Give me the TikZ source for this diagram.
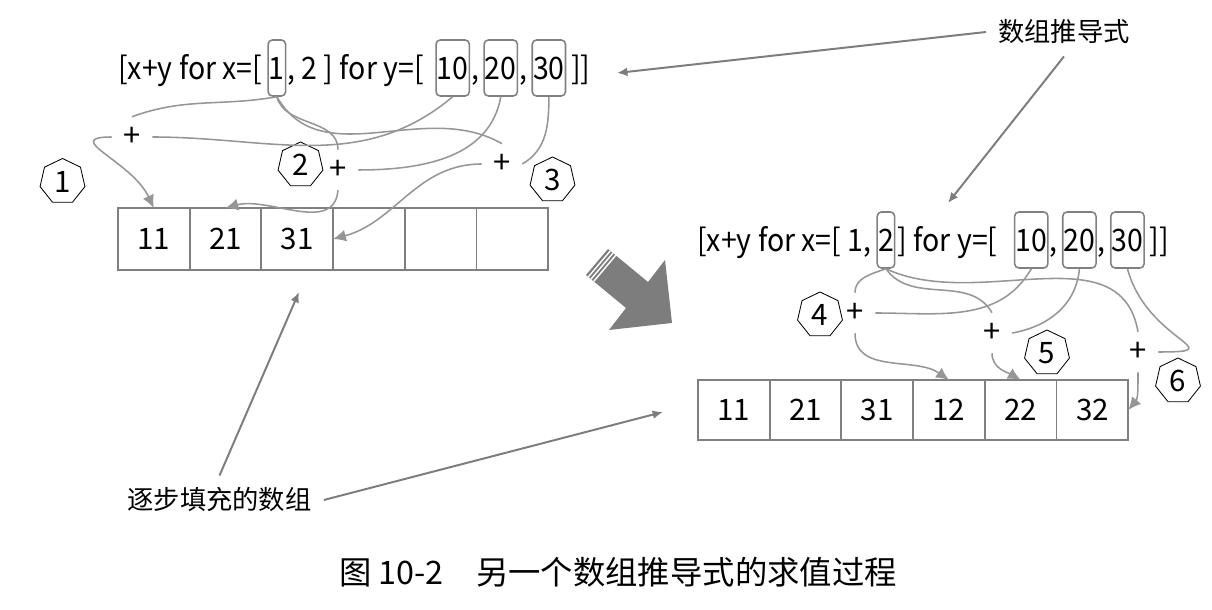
\documentclass[tikz,border=0pt]{standalone}
\usepackage{fontspec}
\setmainfont{Noto Sans CJK SC}
\newfontfamily\codefont[FakeStretch=0.92]{Noto Sans CJK SC}
\usetikzlibrary{positioning,shapes.geometric,arrows.meta}

\definecolor{cellgray}{RGB}{128,128,128}
\definecolor{linegray}{RGB}{150,150,150}
\definecolor{arrowgray}{RGB}{125,125,125}

\begin{document}
\begin{tikzpicture}[
    x=0.025cm, y=0.025cm,
    formula/.style={
        inner sep=0pt,
        anchor=base west,
        font=\codefont\fontsize{22}{26}\selectfont
    },
    numbox/.style={
        draw=cellgray,
        line width=1.1pt,
        rounded corners=3pt,
        inner xsep=0.6pt,
        inner ysep=0pt,
        text height=1.0cm,
        text depth=0.4cm,
        anchor=base west,
        font=\codefont\fontsize{22}{26}\selectfont
    },
    cell/.style={
        draw=cellgray,
        line width=1.3pt,
        minimum width=1.7925cm,
        minimum height=1.55cm,
        inner sep=0pt,
        outer sep=0pt,
        font=\fontsize{21}{24}\selectfont
    },
    plus/.style={
        circle,
        minimum size=1cm,
        inner sep=0pt,
        font=\fontsize{22}{24}\selectfont
    },
    stepno/.style={
        regular polygon,
        regular polygon sides=7,
        draw=black,
        line width=0.6pt,
        minimum size=1.15cm,
        inner sep=0pt,
        font=\fontsize{21}{24}\selectfont
    },
    note/.style={
        inner sep=0.3cm,
        font=\fontsize{18.7}{22}\selectfont
    },
    link/.style={
        draw=linegray,
        line width=1.1pt
    },
    flow/.style={
        link,
        -{Latex[length=3.2mm,width=3mm]}
    },
    pointer/.style={
        draw=arrowgray,
        line width=1.4pt,
        -{Latex[length=2.6mm,width=2.2mm]}
    }
]
    \useasboundingbox (0,0) rectangle (1212,610);

    % Left: formula with x=1
    \node [formula] (lf1) at (118,530) {[x+y for x=[};
    \node [numbox, right=0.12cm of lf1.base east, anchor=base west] (ln1) {1};
    \node [formula, right=0.02cm of ln1.base east, anchor=base west] (lf2) {, 2 ] for y=[};
    \node [numbox, right=0.28cm of lf2.base east, anchor=base west] (ln10) {10};
    \node [formula, right=0.02cm of ln10.base east, anchor=base west] (lf3) {,};
    \node [numbox, right=0.1cm of lf3.base east, anchor=base west] (ln20) {20};
    \node [formula, right=0.02cm of ln20.base east, anchor=base west] (lf4) {,};
    \node [numbox, right=0.1cm of lf4.base east, anchor=base west] (ln30) {30};
    \node [formula, right=0.12cm of ln30.base east, anchor=base west] (lf5) {]]};

    % Left: array being filled
    \node [cell] (lc1) at (153.8,371) {11};
    \node [cell, right=0pt of lc1] (lc2) {21};
    \node [cell, right=0pt of lc2] (lc3) {31};
    \node [cell, right=0pt of lc3] (lc4) {};
    \node [cell, right=0pt of lc4] (lc5) {};
    \node [cell, right=0pt of lc5] (lc6) {};

    % Left: additions and step numbers
    \node [plus] (lp1) at (132,473) {+};
    \node [plus] (lp2) at (338,440) {+};
    \node [plus] (lp3) at (502,446) {+};
    \node [stepno] (ls1) at (62.5,428.5) {1};
    \node [stepno] (ls2) at (300.5,445) {2};
    \node [stepno] (ls3) at (552.5,430) {3};

    \draw [link] (ln1.south) to[out=190,in=20] (lp1.north);
    \draw [link] (ln10.south) to[out=220,in=0] (lp1.east);
    \draw [flow] (lp1.west) to[out=180,in=115,looseness=1.6] (lc1.north);
    \draw [link] (ln1.south) to[out=-75,in=90] (lp2.north);
    \draw [link] (ln20.south) to[out=-100,in=0] (lp2.east);
    \draw [flow] (lp2.south) to[out=-95,in=15] (lc2.north);
    \draw [link] (ln1.south) to[out=-60,in=150] (lp3.north);
    \draw [link] (ln30.south) to[out=-90,in=30] (lp3.east);
    \draw [flow] (lp3.west) to[out=180,in=15] (lc4.west);

    % Right: formula with x=2
    \node [formula] (rf1) at (697,358) {[x+y for x=[ 1,};
    \node [numbox, right=0.12cm of rf1.base east, anchor=base west] (rn2) {2};
    \node [formula, right=0.05cm of rn2.base east, anchor=base west] (rf2) {] for y=[};
    \node [numbox, right=0.4cm of rf2.base east, anchor=base west] (rn10) {10};
    \node [formula, right=0.02cm of rn10.base east, anchor=base west] (rf3) {,};
    \node [numbox, right=0.1cm of rf3.base east, anchor=base west] (rn20) {20};
    \node [formula, right=0.02cm of rn20.base east, anchor=base west] (rf4) {,};
    \node [numbox, right=0.1cm of rf4.base east, anchor=base west] (rn30) {30};
    \node [formula, right=0.12cm of rn30.base east, anchor=base west] (rf5) {]]};

    % Right: array filled
    \node [cell, minimum height=1.5cm] (rc1) at (733.8,200) {11};
    \node [cell, minimum height=1.5cm, right=0pt of rc1] (rc2) {21};
    \node [cell, minimum height=1.5cm, right=0pt of rc2] (rc3) {31};
    \node [cell, minimum height=1.5cm, right=0pt of rc3] (rc4) {12};
    \node [cell, minimum height=1.5cm, right=0pt of rc4] (rc5) {22};
    \node [cell, minimum height=1.5cm, right=0pt of rc5] (rc6) {32};

    % Right: additions and step numbers
    \node [plus] (rp4) at (855,297) {+};
    \node [plus] (rp5) at (992,277) {+};
    \node [plus] (rp6) at (1138,258) {+};
    \node [stepno] (rs4) at (820,295) {4};
    \node [stepno] (rs5) at (1047,257) {5};
    \node [stepno] (rs6) at (1178,229) {6};

    \draw [link] (rn2.south) to[out=200,in=90] (rp4.north);
    \draw [link] (rn10.south) to[out=-120,in=0] (rp4.east);
    \draw [flow] (rp4.south) to[out=-90,in=145] (rc4.north);
    \draw [link] (rn2.south) to[out=-55,in=120] (rp5.north);
    \draw [link] (rn20.south) to[out=-95,in=10] (rp5.east);
    \draw [flow] (rp5.south) to[out=-90,in=150] (rc5.north);
    \draw [link] (rn2.south) to[out=-25,in=100] (rp6.north);
    \draw [link] (rn30.south) to[out=-75,in=0,looseness=2.2] (rp6.east);
    \draw [flow] (rp6.south) to[out=-90,in=50] (rc6.east);

    % Big arrow between the two states
    \fill [arrowgray] (608,361) -- (648,328) -- (665,350) -- (672,287)
        -- (609,280) -- (626,302) -- (586,335) -- cycle;
    \draw [white, line width=1pt] (610.3,359.1) -- (588.3,333.1);
    \draw [white, line width=1pt] (613,356.9) -- (591,330.9);
    \draw [white, line width=1pt] (615.8,354.7) -- (593.8,328.7);

    % Notes
    \node [note] (lblFormula) at (1064,578) {数组推导式};
    \node [note] (lblArray) at (219.5,110) {逐步填充的数组};
    \coordinate (tipA) at (617,537);
    \coordinate (tipB) at (948,407);
    \coordinate (tipC) at (299,318);
    \coordinate (tipD) at (663,198);
    \draw [pointer] (lblFormula.west) -- (tipA);
    \draw [pointer] (lblFormula.south) -- (tipB);
    \draw [pointer] (lblArray.north) -- (tipC);
    \draw [pointer] (lblArray.east) -- (tipD);

    % Caption
    \node [font=\fontsize{23}{26}\selectfont] (caption) at (618,38)
        {图 10-2\quad 另一个数组推导式的求值过程};
\end{tikzpicture}
\end{document}
